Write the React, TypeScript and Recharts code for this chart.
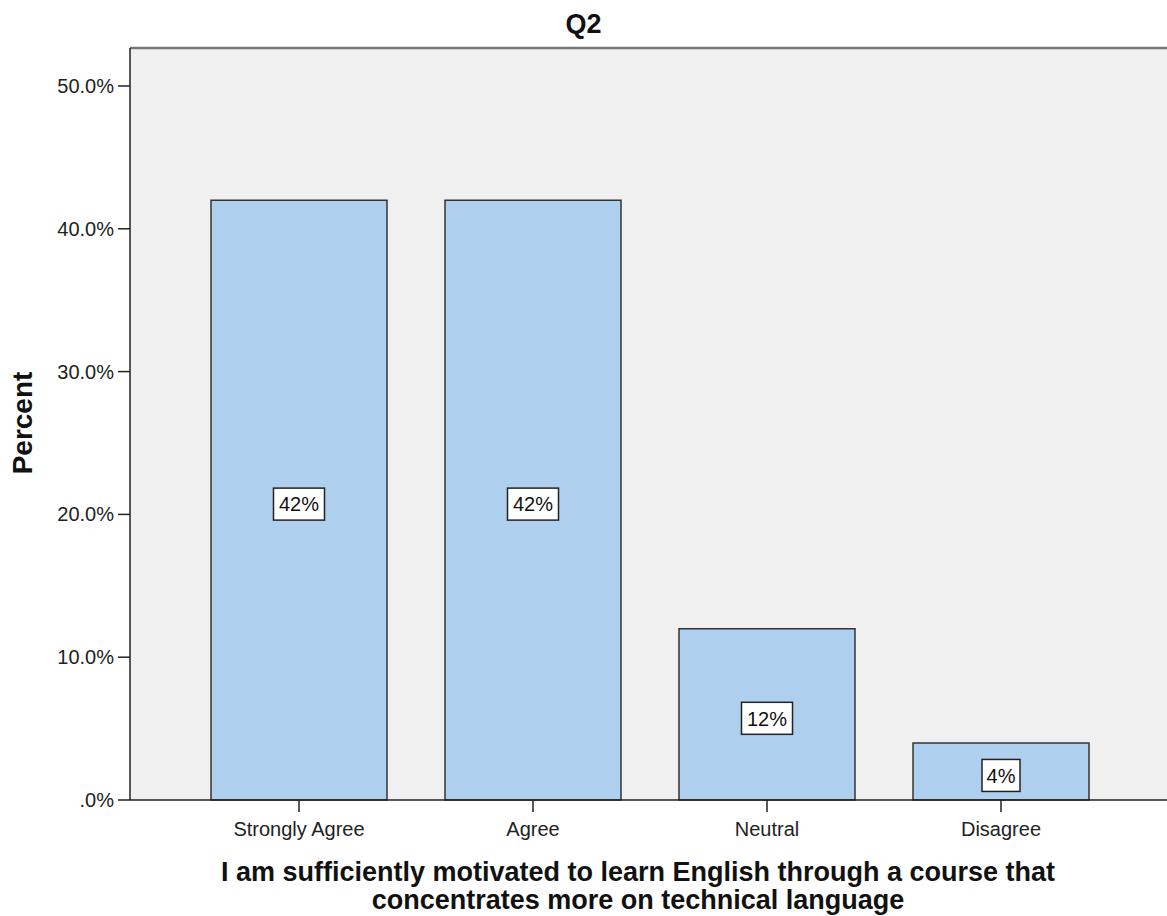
import React from 'react';
import { BarChart, Bar, XAxis, YAxis, CartesianGrid, ReferenceLine, LabelList } from 'recharts';

const categories = ['Strongly Agree', 'Agree', 'Neutral', 'Disagree'];
const percents = [42, 42, 12, 4];
const yTicks = [0, 10, 20, 30, 40, 50];
const yTop = 52.66;

const chartTitle = 'Q2';
const yTitle = 'Percent';
const xTitleLines = [
  'I am sufficiently motivated to learn English through a course that',
  'concentrates more on technical language',
];

const data = categories.map((name, i) => ({ name, value: percents[i] }));

const FONT = '"Liberation Sans", Arial, sans-serif';

const fmtTick = (v: number) => (v === 0 ? '.0%' : `${v.toFixed(1)}%`);

// white boxed percentage label in the middle of each bar
const BoxLabel = (props: any) => {
  const { x, y, width, height, value } = props;
  const txt = `${value}%`;
  const cx = x + width / 2;
  const cy = y + height / 2 + 4;
  const w = txt.length * 13 + 12;
  const h = 32;
  return (
    <g>
      <rect x={cx - w / 2} y={cy - h / 2} width={w} height={h} fill="#fff" stroke="#222" strokeWidth={1.5} />
      <text x={cx} y={cy} dy="0.36em" textAnchor="middle" fontSize={20} fontFamily={FONT} fill="#111">
        {txt}
      </text>
    </g>
  );
};

export default function App() {
  return (
    <div style={{ position: 'absolute', left: 0, top: 0, width: 1167, height: 916, overflow: 'hidden', background: '#fff', fontFamily: FONT }}>
      <BarChart width={1175} height={916} data={data} margin={{ top: 48, right: 5, bottom: 0, left: 0 }}>
        <CartesianGrid horizontal={false} vertical={false} fill="#f0f0f0" stroke="none" />
        <XAxis
          dataKey="name"
          height={116}
          padding={{ left: 52, right: 52 }}
          tickSize={12}
          tickMargin={10}
          axisLine={{ stroke: '#222', strokeWidth: 1.5 }}
          tickLine={{ stroke: '#222', strokeWidth: 1.5 }}
          tick={{ fill: '#222', fontSize: 20, fontFamily: FONT }}
        />
        <YAxis
          width={130}
          domain={[0, yTop]}
          ticks={yTicks}
          tickFormatter={fmtTick}
          tickSize={12}
          tickMargin={4}
          axisLine={{ stroke: '#222', strokeWidth: 1.5 }}
          tickLine={{ stroke: '#222', strokeWidth: 1.5 }}
          tick={{ fill: '#222', fontSize: 20, fontFamily: FONT }}
        />
        <ReferenceLine y={yTop} stroke="#777" strokeWidth={2.5} />
        <Bar dataKey="value" barSize={176} fill="#aecfee" stroke="#333" strokeWidth={1.5} isAnimationActive={false}>
          <LabelList dataKey="value" content={BoxLabel} />
        </Bar>
      </BarChart>

      <div style={{ position: 'absolute', left: 0, width: 1167, top: 8, textAlign: 'center', fontSize: 27, fontWeight: 'bold', lineHeight: '32px', color: '#111' }}>
        {chartTitle}
      </div>

      <div
        style={{
          position: 'absolute', left: 23, top: 423, transform: 'translate(-50%, -50%) rotate(-90deg)',
          fontSize: 28, fontWeight: 'bold', whiteSpace: 'nowrap', color: '#111', lineHeight: '32px',
        }}
      >
        {yTitle}
      </div>

      <div style={{ position: 'absolute', left: 638, top: 858, transform: 'translateX(-50%)', textAlign: 'center', fontSize: 27, fontWeight: 'bold', lineHeight: '28px', whiteSpace: 'nowrap', color: '#111' }}>
        {xTitleLines.map((l) => (
          <div key={l}>{l}</div>
        ))}
      </div>
    </div>
  );
}
